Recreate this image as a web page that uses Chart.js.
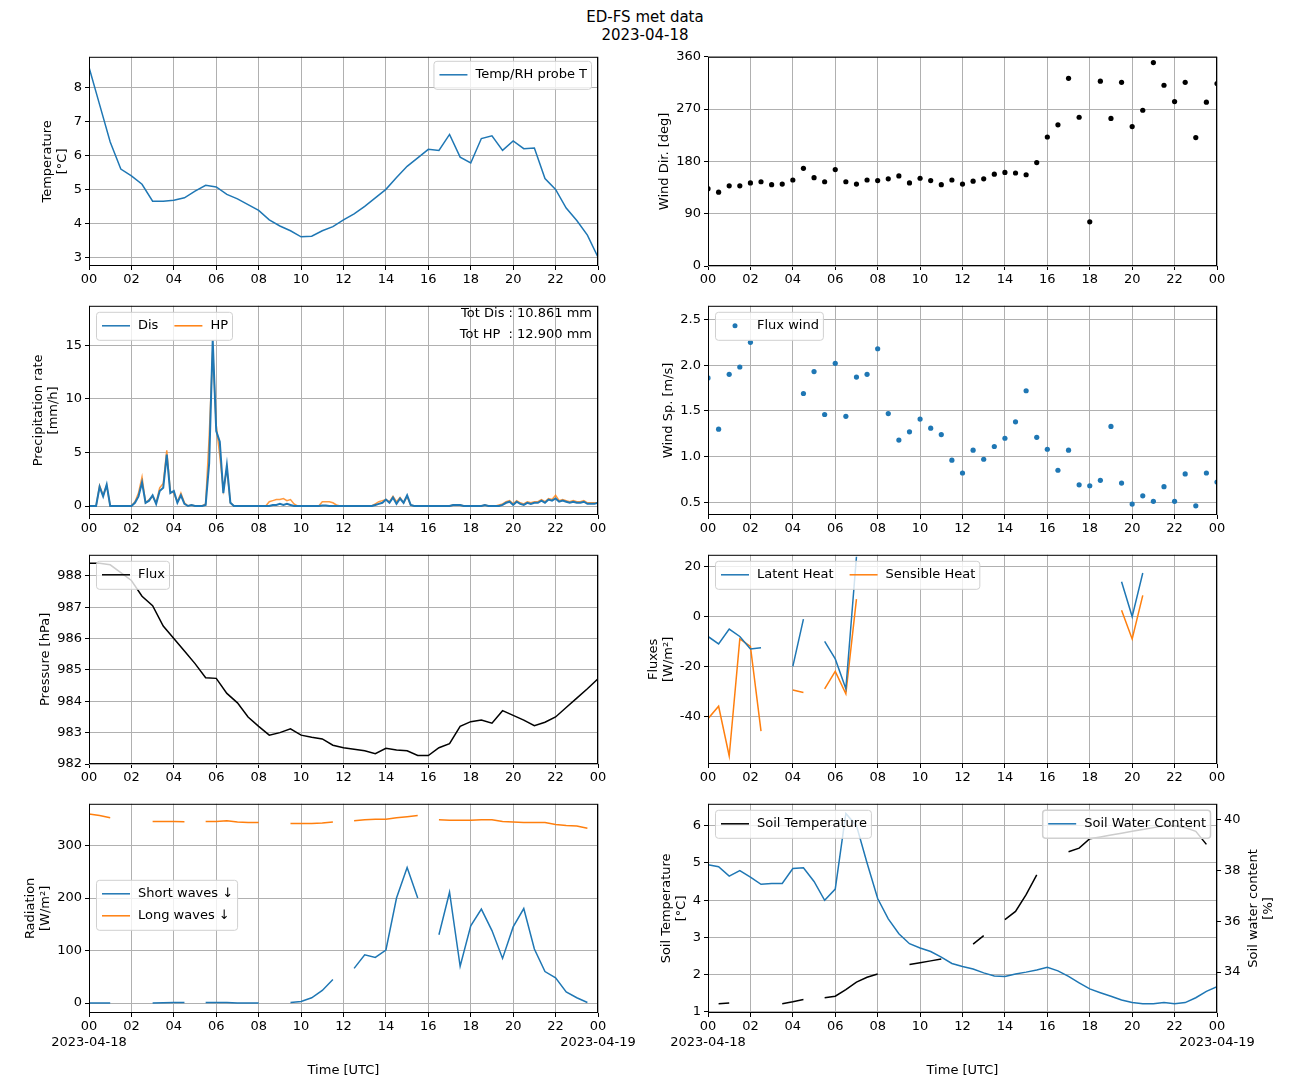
<!DOCTYPE html>
<html>
<head>
<meta charset="utf-8">
<script src="https://cdn.jsdelivr.net/npm/chart.js@4.4.0/dist/chart.umd.min.js"></script>
<style>
  body { margin: 0; background: #fff; width: 1290px; height: 1083px; position: relative; overflow: hidden; font-family: "DejaVu Sans", sans-serif; }
  canvas { position: absolute; }
  #title { position: absolute; left: 0; width: 1290px; top: 8px; text-align: center; font-size: 15px; line-height: 18px; }
</style>
</head>
<body>
<div id="title">ED-FS met data<br>2023-04-18</div>
<canvas id="c1"></canvas><canvas id="c2"></canvas>
<canvas id="c3"></canvas><canvas id="c4"></canvas>
<canvas id="c5"></canvas><canvas id="c6"></canvas>
<canvas id="c7"></canvas><canvas id="c8"></canvas>
<script>
// half-hourly time axis (hours) and 10-minute axis for rain
const halfHours = Array.from({length: 49}, (_, i) => i / 2);
const tenMinutes = Array.from({length: 145}, (_, i) => i / 6);

const temperature = [8.6, 7.5, 6.4, 5.6, 5.4, 5.15, 4.65, 4.65, 4.68, 4.75, 4.95, 5.12, 5.07, 4.85, 4.72, 4.55, 4.38, 4.1, 3.92, 3.78,
  3.6, 3.62, 3.78, 3.9, 4.1, 4.28, 4.5, 4.75, 5.0, 5.35, 5.68, 5.93, 6.18, 6.15, 6.62, 5.95, 5.78, 6.5, 6.58, 6.15,
  6.43, 6.2, 6.22, 5.32, 5.0, 4.45, 4.08, 3.65, 3.0];

const windDir = [133, 127, 138, 138, 143, 145, 140, 141, 148, 168, 152, 145, 166, 145, 141, 148, 147, 150, 155, 143,
  151, 147, 140, 148, 141, 146, 150, 158, 161, 160, 157, 178, 222, 243, 323, 256, 76, 318, 254, 316,
  240, 268, 350, 311, 283, 316, 221, 282, 314];

const windSpeed = [1.86, 1.30, 1.90, 1.98, 2.25, null, null, null, null, 1.69, 1.93, 1.46, 2.02, 1.44, 1.87, 1.90, 2.18, 1.47, 1.18, 1.27,
  1.41, 1.31, 1.24, 0.96, 0.82, 1.07, 0.97, 1.11, 1.20, 1.38, 1.72, 1.21, 1.08, 0.85, 1.07, 0.69, 0.68, 0.74, 1.33, 0.71,
  0.48, 0.57, 0.51, 0.67, 0.51, 0.81, 0.46, 0.82, 0.72];

const rainDis = [
  0, 0, 0, 1.8, 0.9, 2.0,   0, 0, 0, 0, 0, 0,   0, 0.3, 0.9, 2.2, 0.3, 0.5,   1.0, 0.2, 1.4, 1.7, 4.8, 1.2,
  1.4, 0.3, 1.0, 0.2, 0, 0.1,   0, 0, 0, 0.1, 4.0, 15.5,   7.0, 6.0, 1.2, 3.8, 0.3, 0,   0, 0, 0, 0, 0, 0,
  0, 0, 0, 0, 0.1, 0.1,   0.2, 0.1, 0.2, 0.1, 0, 0,   0, 0, 0, 0, 0, 0,   0.05, 0.05, 0, 0, 0, 0,
  0, 0, 0, 0, 0, 0,   0, 0, 0, 0.1, 0.2, 0.3,   0.6, 0.3, 0.8, 0.2, 0.7, 0.3,   1.0, 0.1, 0, 0, 0, 0,
  0, 0, 0, 0, 0, 0,   0, 0.1, 0.1, 0.1, 0, 0,   0, 0, 0, 0, 0.1, 0,   0, 0, 0, 0.1, 0.3, 0.4,
  0.1, 0.4, 0.2, 0.1, 0.3, 0.2,   0.3, 0.3, 0.5, 0.3, 0.6, 0.5,   0.7, 0.4, 0.5, 0.4, 0.3, 0.4,   0.3, 0.3, 0.4, 0.2, 0.2, 0.2,
  0.3];
const rainHP = [
  0, 0, 0, 1.9, 1.0, 1.9,   0, 0, 0, 0, 0, 0,   0, 0.4, 1.2, 2.7, 0.3, 0.6,   0.9, 0.3, 1.7, 2.1, 5.2, 1.4,
  1.2, 0.4, 1.2, 0.3, 0, 0.1,   0, 0, 0, 0.2, 6.5, 14.5,   7.5, 4.7, 1.5, 3.5, 0.3, 0,   0, 0, 0, 0, 0, 0,
  0, 0, 0, 0.4, 0.5, 0.6,   0.6, 0.7, 0.5, 0.6, 0.2, 0,   0, 0, 0, 0, 0, 0,   0.4, 0.4, 0.4, 0.3, 0.1, 0,
  0, 0, 0, 0, 0, 0,   0, 0, 0, 0.2, 0.4, 0.5,   0.6, 0.4, 0.9, 0.4, 0.8, 0.3,   0.9, 0.1, 0, 0, 0, 0,
  0, 0, 0, 0, 0, 0,   0, 0.1, 0.1, 0.1, 0, 0,   0, 0, 0, 0, 0.1, 0,   0, 0, 0.1, 0.2, 0.4, 0.5,
  0.2, 0.5, 0.3, 0.2, 0.4, 0.3,   0.4, 0.4, 0.6, 0.4, 0.7, 0.6,   1.0, 0.5, 0.6, 0.5, 0.4, 0.5,   0.4, 0.4, 0.5, 0.3, 0.3, 0.3,
  0.3];

const pressure = [988.4, 988.4, 988.35, 988.1, 987.85, 987.35, 987.05, 986.4, 986.0, 985.6, 985.2, 984.75, 984.73, 984.25, 983.95, 983.5, 983.2, 982.92, 983.0, 983.12,
  982.92, 982.85, 982.8, 982.6, 982.52, 982.47, 982.42, 982.33, 982.5, 982.45, 982.42, 982.27, 982.27, 982.52, 982.65, 983.2, 983.35, 983.4, 983.3, 983.7,
  983.55, 983.4, 983.22, 983.33, 983.5, 983.8, 984.1, 984.4, 984.72];

const latentHeat = [-8, -11, -5, -8, -13, -12.5, null, null, -20, -1, null, -10, -17, -29, 24, null, null, null, null, null,
  null, null, null, null, null, null, null, null, null, null, null, null, null, null, null, null, null, null, null, 14,
  0, 17.5, null, null, null, null, null, null, null];
const sensibleHeat = [-41, -36, -56, -9, -12, -46, null, null, -29.5, -30.5, null, -29, -22, -31, 7, null, null, null, null, null,
  null, null, null, null, null, null, null, null, null, null, null, null, null, null, null, null, null, null, null, 2.5,
  -9, 8.5, null, null, null, null, null, null, null];

const shortWaves = [0, 0, 0, null, null, null, 0, 0.5, 1, 1, null, 1, 1, 1, 0, 0, 0, null, null, 1,
  3, 10, 24, 45, null, 66, 92, 87, 101, 200, 258, 200, null, 130, 211, 70, 147, 179, 138, 85,
  145, 180, 103, 60, 48, 21, 10, 1, null];
const longWaves = [360, 357, 353, null, null, null, 346, 346, 346, 345.5, null, 346, 346, 347, 345, 344, 344, null, null, 342,
  342, 342, 343, 345, null, 347, 349, 350, 350, 353, 355, 357, null, 349, 348, 348, 348, 349, 349, 346,
  345, 344, 344, 344, 340, 338, 337, 333, null];
const radiationTicks = [0, 100, 200, 300];

const soilTemp = [null, 1.22, 1.24, null, null, null, null, 1.22, 1.27, 1.33, null, 1.38, 1.42, 1.6, 1.8, 1.93, 2.02, null, null, 2.27,
  2.32, 2.37, 2.42, null, null, 2.82, 3.05, null, 3.48, 3.7, 4.15, 4.68, null, null, 5.3, 5.4, 5.65, 5.7, 5.75, 5.8,
  5.85, 5.9, 5.95, 6.0, 6.0, 5.95, 5.85, 5.5, null];
const soilWater = [38.23, 38.15, 37.78, 38.0, 37.74, 37.46, 37.49, 37.49, 38.08, 38.11, 37.57, 36.83, 37.27, 40.25, 39.77, 38.3, 36.9, 36.1, 35.51, 35.12,
  34.95, 34.81, 34.59, 34.34, 34.22, 34.12, 33.97, 33.85, 33.83, 33.93, 34.0, 34.08, 34.19, 34.05, 33.83, 33.58, 33.34, 33.19, 33.05, 32.9,
  32.8, 32.75, 32.75, 32.8, 32.75, 32.8, 32.99, 33.24, 33.43];

const blue = '#1f77b4', orange = '#ff7f0e';
const font = {family: 'DejaVu Sans', size: 13};
const pts = (xs, ys) => xs.map((x, i) => ({x: x, y: ys[i]}));

// matplotlib-like frame, axis titles, legends and free text
const mpl = {
  id: 'mpl',
  afterDraw(chart, args, o) {
    const ctx = chart.ctx, a = chart.chartArea;
    ctx.save();
    ctx.strokeStyle = '#000'; ctx.lineWidth = 1;
    ctx.strokeRect(a.left + 0.5, a.top + 0.5, a.right - a.left - 1, a.bottom - a.top - 1);
    ctx.font = '13px "DejaVu Sans"';
    // y axis titles, rotated bottom-to-top like matplotlib
    Object.values(chart.scales).forEach(s => {
      const t = s.options.mplTitle;
      if (!t) return;
      const maxW = Math.max(...s.ticks.map(tk => ctx.measureText(String(tk.label)).width));
      const lines = Array.isArray(t) ? t : [t];
      const lh = 15;
      const cy = (a.top + a.bottom) / 2;
      let x0;
      if (s.position === 'left') x0 = a.left - 4 - 3 - maxW - 5 - lines.length * lh;
      else x0 = a.right + 4 + 3 + maxW + 5;
      lines.forEach((ln, i) => {
        ctx.save();
        ctx.translate(x0 + lh * i + lh / 2 + 1, cy);
        ctx.rotate(-Math.PI / 2);
        ctx.fillStyle = '#000'; ctx.textAlign = 'center'; ctx.textBaseline = 'middle';
        ctx.fillText(ln, 0, 0);
        ctx.restore();
      });
    });
    (o.legends || []).forEach(lg => {
      const cols = lg.cols || 1;
      const rows = Math.ceil(lg.items.length / cols);
      const colW = [];
      lg.items.forEach((it, i) => {
        const c = i % cols;
        colW[c] = Math.max(colW[c] || 0, 36 + ctx.measureText(it.label).width);
      });
      const w = colW.reduce((s, v) => s + v, 0) + 10 + (cols - 1) * 16;
      const h = rows * 22 + 6;
      const x0 = lg.right ? a.right - lg.x - w : a.left + lg.x;
      const y0 = a.top + lg.y;
      ctx.fillStyle = 'rgba(255,255,255,0.8)';
      ctx.strokeStyle = '#d0d0d0';
      ctx.beginPath(); ctx.roundRect(x0 + 0.5, y0 + 0.5, w, h, 3); ctx.fill(); ctx.stroke();
      lg.items.forEach((it, i) => {
        const c = i % cols, r = Math.floor(i / cols);
        let x = x0 + 6;
        for (let k = 0; k < c; k++) x += colW[k] + 16;
        const y = y0 + 14 + r * 22;
        if (it.dot) {
          ctx.fillStyle = it.color; ctx.beginPath(); ctx.arc(x + 14, y, 2.5, 0, 7); ctx.fill();
        } else {
          ctx.strokeStyle = it.color; ctx.lineWidth = 1.5;
          ctx.beginPath(); ctx.moveTo(x, y); ctx.lineTo(x + 28, y); ctx.stroke();
        }
        ctx.fillStyle = '#000'; ctx.textBaseline = 'middle'; ctx.textAlign = 'left';
        ctx.fillText(it.label, x + 36, y);
      });
    });
    (o.texts || []).forEach(t => {
      ctx.fillStyle = '#000'; ctx.textAlign = 'right'; ctx.textBaseline = 'middle';
      ctx.fillText(t.text, a.right - t.x, a.top + t.y);
    });
    ctx.restore();
  }
};

function xAxis(bottom) {
  return {
    type: 'linear', min: 0, max: 24,
    ticks: {
      stepSize: 2, autoSkip: false, maxRotation: 0, color: '#000', font: font, padding: 2,
      callback: v => {
        const s = String(v % 24).padStart(2, '0');
        if (bottom && v === 0) return [s, '2023-04-18'];
        if (bottom && v === 24) return [s, '2023-04-19'];
        return s;
      }
    },
    grid: {color: '#b0b0b0', tickColor: '#000', tickLength: 4},
    border: {display: false},
    title: {display: bottom, text: 'Time [UTC]', color: '#000', font: font, padding: {top: 4, bottom: 5}},
    afterFit: s => { s.height = bottom ? 70 : 30; }
  };
}

function yAxis(min, max, step, title, width, pos, fixedTicks) {
  const ax = {
    type: 'linear', min: min, max: max, position: pos || 'left',
    ticks: {stepSize: step, includeBounds: false, color: '#000', font: font, padding: 3},
    grid: {color: '#b0b0b0', tickColor: '#000', tickLength: 4, drawOnChartArea: pos !== 'right'},
    border: {display: false},
    mplTitle: title,
    afterFit: s => { s.width = width; }
  };
  if (fixedTicks) ax.afterBuildTicks = s => { s.ticks = fixedTicks.map(v => ({value: v})); };
  return ax;
}

function panel(id, col, row, datasets, yScales, legendOpts, bottom, rightPad) {
  const tops = [56, 305, 554, 803];
  const cv = document.getElementById(id);
  const left = col === 0 ? 0 : 620;
  const width = col === 0 ? 660 : 670;
  const xh = bottom ? 70 : 30;
  cv.width = width; cv.height = 10 + 210 + xh;
  cv.style.left = left + 'px'; cv.style.top = (tops[row] - 10) + 'px';
  const scales = Object.assign({x: xAxis(bottom)}, yScales);
  return new Chart(cv, {
    type: 'line',
    data: {datasets: datasets},
    options: {
      responsive: false, animation: false, devicePixelRatio: 1,
      layout: {padding: {top: 10, left: 0, bottom: 0, right: rightPad !== undefined ? rightPad : (col === 0 ? 62 : 73)}},
      scales: scales,
      plugins: {legend: {display: false}, tooltip: {enabled: false}, mpl: legendOpts}
    },
    plugins: [mpl]
  });
}

const line = (data, color, extra) => Object.assign({data: data, borderColor: color, backgroundColor: color, borderWidth: 1.5, pointRadius: 0, spanGaps: false}, extra || {});
const dots = (data, color) => ({data: data, borderColor: color, backgroundColor: color, showLine: false, pointRadius: 2.6, pointBorderWidth: 0});

panel('c1', 0, 0, [line(pts(halfHours, temperature), blue)],
  {y: yAxis(2.74, 8.91, 1, ['Temperature', '[°C]'], 89)},
  {legends: [{right: true, x: 7, y: 4, items: [{label: 'Temp/RH probe T', color: blue}]}]}, false);

panel('c2', 1, 0, [dots(pts(halfHours, windDir), '#000')],
  {y: yAxis(0, 360, 90, 'Wind Dir. [deg]', 88)}, {}, false);

panel('c3', 0, 1, [line(pts(tenMinutes, rainDis), blue, {borderWidth: 2}), line(pts(tenMinutes, rainHP), 'rgba(255,127,14,0.8)')],
  {y: yAxis(-0.84, 18.7, 5, ['Precipitation rate', '[mm/h]'], 89)},
  {legends: [{x: 7, y: 6, cols: 2, items: [{label: 'Dis', color: blue}, {label: 'HP', color: orange}]}],
   texts: [{text: 'Tot Dis : 10.861 mm', x: 6, y: 8}, {text: 'Tot HP  : 12.900 mm', x: 6, y: 29}]}, false);

panel('c4', 1, 1, [dots(pts(halfHours, windSpeed), blue)],
  {y: yAxis(0.36, 2.65, 0.5, 'Wind Sp. [m/s]', 88)},
  {legends: [{x: 7, y: 6, items: [{label: 'Flux wind', color: blue, dot: true}]}]}, false);

panel('c5', 0, 2, [line(pts(halfHours, pressure), '#000')],
  {y: yAxis(982.0, 988.67, 1, 'Pressure [hPa]', 89)},
  {legends: [{x: 7, y: 6, items: [{label: 'Flux', color: '#000'}]}]}, false);

panel('c6', 1, 2, [line(pts(halfHours, latentHeat), blue), line(pts(halfHours, sensibleHeat), orange)],
  {y: yAxis(-59.2, 24.8, 20, ['Fluxes', '[W/m²]'], 88)},
  {legends: [{x: 7, y: 6, cols: 2, items: [{label: 'Latent Heat', color: blue}, {label: 'Sensible Heat', color: orange}]}]}, false);

panel('c7', 0, 3, [line(pts(halfHours, shortWaves), blue), line(pts(halfHours, longWaves), orange)],
  {y: yAxis(-19, 379.5, 100, ['Radiation', '[W/m²]'], 89, 'left', radiationTicks)},
  {legends: [{x: 7, y: 76, items: [{label: 'Short waves \u2193', color: blue}, {label: 'Long waves \u2193', color: orange}]}]}, true);

panel('c8', 1, 3, [line(pts(halfHours, soilTemp), '#000', {yAxisID: 'y'}), line(pts(halfHours, soilWater), blue, {yAxisID: 'y2'})],
  {y: yAxis(0.97, 6.59, 1, ['Soil Temperature', '[°C]'], 88),
   y2: yAxis(32.39, 40.63, 2, ['Soil water content', '[%]'], 73, 'right')},
  {legends: [{x: 7, y: 6, items: [{label: 'Soil Temperature', color: '#000'}]},
             {right: true, x: 7, y: 6, items: [{label: 'Soil Water Content', color: blue}]}]}, true, 0);
</script>
</body>
</html>
